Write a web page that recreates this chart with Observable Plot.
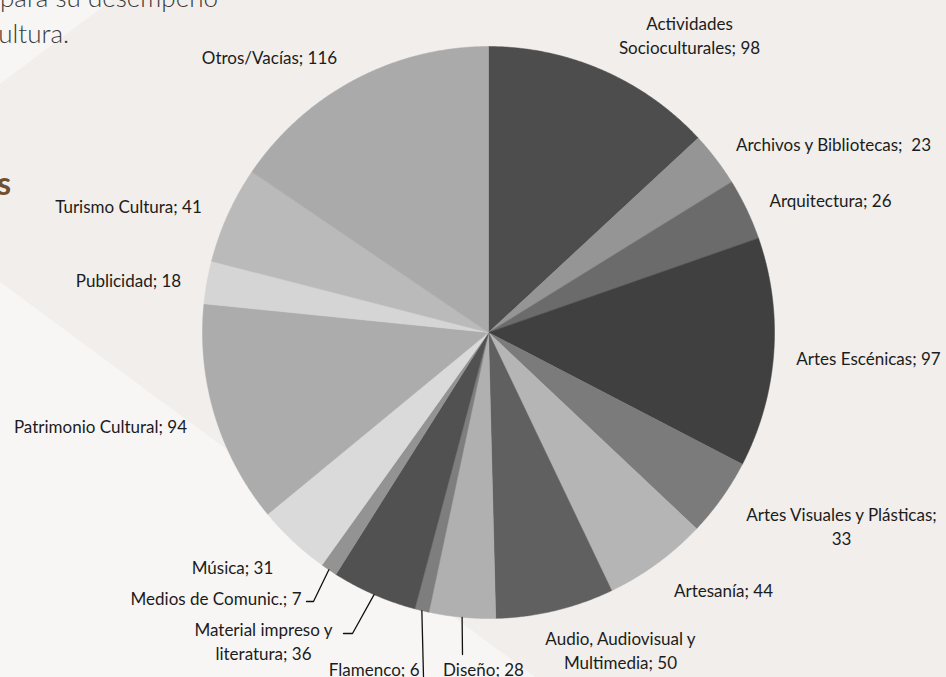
<!DOCTYPE html>
<html>
<head>
<meta charset="utf-8">
<script src="https://cdn.jsdelivr.net/npm/d3@7"></script>
<script src="https://cdn.jsdelivr.net/npm/@observablehq/plot@0.6"></script>
<style>
  html, body { margin: 0; padding: 0; background: #f1eeeb; }
  #wrap { position: relative; width: 946px; height: 677px; overflow: hidden; }
  #deco, #chart { position: absolute; left: 0; top: 0; }
</style>
</head>
<body>
<div id="wrap">
  <svg id="deco" width="946" height="677">
    <rect width="946" height="677" fill="#f1eeeb"/>
    <polygon points="0,0 112,0 0,84" fill="#f7f6f5"/>
    <polygon points="0,282 535,677 0,677" fill="#f7f6f5"/>
    <text x="0" y="7" font-family="Lato" font-weight="300" font-size="26" fill="#3a3a3a">para su desempeño</text>
    <text x="-14" y="43" font-family="Lato" font-weight="300" font-size="26" fill="#3a3a3a">cultura.</text>
    <text x="-3" y="195" font-family="Lato" font-weight="700" font-size="32" fill="#6e4f2f">s</text>
  </svg>
  <div id="chart"></div>
</div>
<script>
// ---- data ----
const categories = [
  "Actividades Socioculturales", "Archivos y Bibliotecas", "Arquitectura",
  "Artes Escénicas", "Artes Visuales y Plásticas", "Artesanía",
  "Audio, Audiovisual y Multimedia", "Diseño", "Flamenco",
  "Material impreso y literatura", "Medios de Comunic.", "Música",
  "Patrimonio Cultural", "Publicidad", "Turismo Cultura", "Otros/Vacías"
];
const values = [98, 23, 26, 97, 33, 44, 50, 28, 6, 36, 7, 31, 94, 18, 41, 116];
const labels = [
  "Actividades\nSocioculturales; 98", "Archivos y Bibliotecas;  23", "Arquitectura; 26",
  "Artes Escénicas; 97", "Artes Visuales y Plásticas;\n33", "Artesanía; 44",
  "Audio, Audiovisual y\nMultimedia; 50", "Diseño; 28", "Flamenco; 6",
  "Material impreso y\nliteratura; 36", "Medios de Comunic.; 7", "Música; 31",
  "Patrimonio Cultural; 94", "Publicidad; 18", "Turismo Cultura; 41", "Otros/Vacías; 116"
];

// ---- styles ----
const sliceColors = [
  "#4d4d4d", "#959595", "#6b6b6b", "#404040", "#7b7b7b", "#b5b5b5",
  "#606060", "#b0b0b0", "#7e7e7e", "#515151", "#939393", "#dadada",
  "#acacac", "#d5d5d5", "#bababa", "#aaaaaa"
];

// ---- layout (pixels) ----
const cx = 488, cy = 332, R = 286;
// label block centre [x, y] and anchor
const labelPos = [
  [689, 34, "middle"], [833, 143, "middle"], [830, 199, "middle"],
  [868, 357, "middle"], [841, 525, "middle"], [723, 589, "middle"],
  [620, 649, "middle"], [483, 668, "middle"], [419, 668, "end"],
  [263, 640, "middle"], [301, 597, "end"], [232, 566, "middle"],
  [100, 425, "middle"], [128, 279, "middle"], [128, 205, "middle"], [269, 56, "middle"]
];
// leader line elbow / end points (pixels), by category index
const leaderEnds = {
  7: [[462, 654]],
  8: [[423, 676]],
  9: [[352, 633], [343, 633]],
  10: [[313, 601], [306, 601]]
};

const toU = ([px, py]) => [(px - cx) / R, (cy - py) / R];

const arcs = d3.pie().sort(null).value(d => d)(values);

const slicePts = [];
arcs.forEach((a, i) => {
  const name = categories[i];
  const color = sliceColors[i];
  slicePts.push({name, color, x: 0, y: 0});
  const n = Math.max(2, Math.ceil((a.endAngle - a.startAngle) / 0.005));
  for (let k = 0; k <= n; k++) {
    const t = a.startAngle + (a.endAngle - a.startAngle) * k / n;
    slicePts.push({name, color, x: Math.sin(t), y: Math.cos(t)});
  }
  slicePts.push({name, color, x: 0, y: 0});
});

const leaderPts = [];
Object.entries(leaderEnds).forEach(([idx, pts]) => {
  const a = arcs[+idx];
  const m = (a.startAngle + a.endAngle) / 2;
  const name = categories[idx];
  leaderPts.push({name, x: Math.sin(m), y: Math.cos(m)});
  pts.forEach(p => {
    const [ux, uy] = toU(p);
    leaderPts.push({name, x: ux, y: uy});
  });
});

const labelData = labels.map((t, i) => {
  const [ux, uy] = toU(labelPos[i]);
  return {text: t, x: ux, y: uy, anchor: labelPos[i][2]};
});

const textOpts = {
  x: "x", y: "y", text: "text", lineAnchor: "middle", lineHeight: 1.41,
  fill: "#1c1c1c", fontSize: 17
};

const chart = Plot.plot({
  width: 946,
  height: 677,
  margin: 0,
  x: {domain: [-1, 1], range: [cx - R, cx + R], axis: null},
  y: {domain: [-1, 1], range: [cy + R, cy - R], axis: null},
  color: {type: "identity"},
  style: {background: "transparent", fontFamily: "Lato, sans-serif", fontSize: "17px", overflow: "visible"},
  marks: [
    Plot.line(slicePts, {x: "x", y: "y", z: "name", fill: "color", stroke: "color", strokeWidth: 0.5, curve: "linear"}),
    Plot.line(leaderPts, {x: "x", y: "y", z: "name", stroke: "#111", strokeWidth: 1.3}),
    Plot.text(labelData.filter(d => d.anchor === "middle"), {...textOpts, textAnchor: "middle"}),
    Plot.text(labelData.filter(d => d.anchor === "end"), {...textOpts, textAnchor: "end"}),
    Plot.text(labelData.filter(d => d.anchor === "start"), {...textOpts, textAnchor: "start"})
  ]
});
document.getElementById("chart").appendChild(chart);
</script>
</body>
</html>
